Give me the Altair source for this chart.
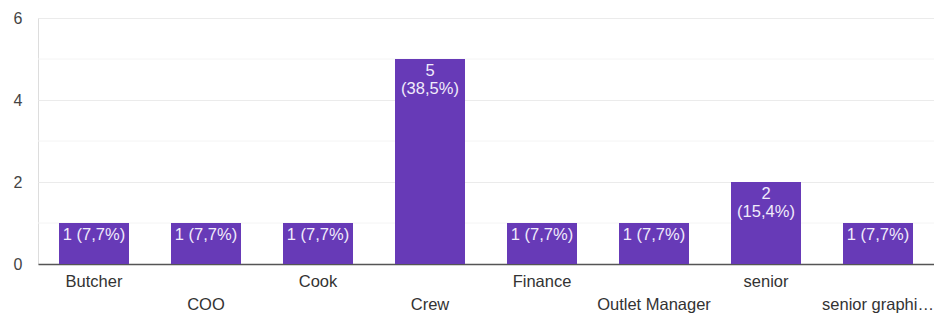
import altair as alt
import pandas as pd

categories = ["Butcher", "COO", "Cook", "Crew", "Finance", "Outlet Manager", "senior", "senior graphi…"]
counts = [1, 1, 1, 5, 1, 1, 2, 1]
percents = ["7,7%", "7,7%", "7,7%", "38,5%", "7,7%", "7,7%", "15,4%", "7,7%"]
major_ticks = [0, 2, 4, 6]
minor_ticks = [1, 3, 5]

W, H = 896, 246
PURPLE = "#673ab7"
FONT = "Liberation Sans"

labels = []
for c, p in zip(counts, percents):
    labels.append(f"{c} ({p})" if c < 2 else f"{c}\n({p})")

df = pd.DataFrame({
    "cat": categories,
    "count": counts,
    "label": labels,
    "row": [i % 2 for i in range(len(categories))],
})
minor_df = pd.DataFrame({"v": minor_ticks})

xs = alt.X("cat:N", sort=categories,
           scale=alt.Scale(paddingInner=0.375, paddingOuter=0.1875),
           axis=alt.Axis(title=None, labels=False, ticks=False, domain=True,
                         domainColor="#555555", domainWidth=1.5, grid=False))
ys = alt.Y("count:Q", scale=alt.Scale(domain=[0, 6], nice=False),
           axis=alt.Axis(title=None, values=major_ticks, ticks=False, domain=False,
                         gridColor="#ebebeb",
                         labelColor="#444444", labelFont=FONT, labelFontSize=16,
                         labelPadding=16))

minor = alt.Chart(minor_df).mark_rule(color="#f4f4f4", strokeWidth=1).encode(
    y=alt.Y("v:Q", scale=alt.Scale(domain=[0, 6], nice=False)),
    x=alt.value(0), x2=alt.value(W))

bars = alt.Chart(df).mark_bar(color=PURPLE).encode(x=xs, y=ys)

bar_text = alt.Chart(df).mark_text(
    baseline="alphabetic", dy=17, font=FONT, fontSize=16.5, color="#f1ecfb",
    lineBreak="\n", lineHeight=18,
).encode(x=alt.X("cat:N", sort=categories), y="count:Q", text="label:N")

xl0 = alt.Chart(df).transform_filter("datum.row == 0").mark_text(
    baseline="alphabetic", font=FONT, fontSize=16.5, color="#333333"
).encode(x=alt.X("cat:N", sort=categories), y=alt.value(H + 23), text="cat:N")
xl1 = alt.Chart(df).transform_filter("datum.row == 1").mark_text(
    baseline="alphabetic", font=FONT, fontSize=16.5, color="#333333"
).encode(x=alt.X("cat:N", sort=categories), y=alt.value(H + 46), text="cat:N")

chart = alt.layer(minor, bars, bar_text, xl0, xl1).properties(
    width=W, height=H,
    autosize=alt.AutoSizeParams(type="none"),
    padding={"left": 30, "top": 10, "right": 0, "bottom": 50},
).configure_view(stroke="#eeeeee").configure(background="white")

chart.save("out.html", embed_options={"renderer": "svg", "actions": False})
